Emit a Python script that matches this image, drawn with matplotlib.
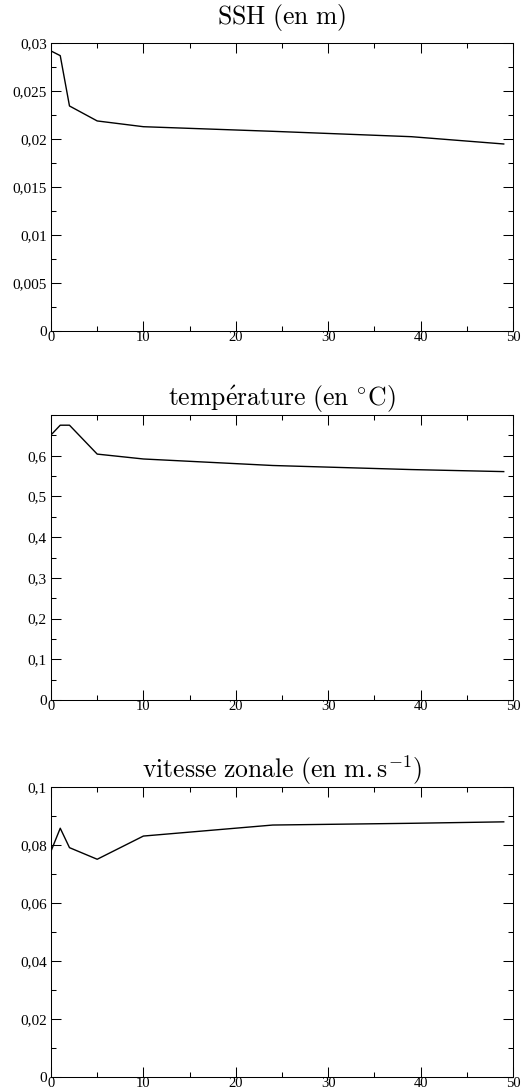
import matplotlib
matplotlib.use("Agg")
import matplotlib.pyplot as plt
from matplotlib.ticker import MultipleLocator, FuncFormatter

plt.rcParams["mathtext.fontset"] = "cm"
plt.rcParams["font.family"] = ["Liberation Serif", "DejaVu Serif"]

# time steps (x) shared by the three panels
x = [0, 1, 2, 5, 10, 24, 39, 49]

# SSH (m)
ssh = [0.02917, 0.02868, 0.02344, 0.02188, 0.02128, 0.0208, 0.02024, 0.01948]
# temperature (deg C)
temp = [0.651, 0.675, 0.675, 0.604, 0.592, 0.576, 0.566, 0.561]
# zonal velocity (m/s)
vit = [0.0779, 0.0858, 0.0791, 0.0751, 0.0831, 0.0869, 0.0875, 0.0880]

titles = [r"$\mathrm{SSH\ (en\ m)}$",
          r"$\mathrm{temp\acute{e}rature\ (en\ {}^{\circ}C)}$",
          r"$\mathrm{vitesse\ zonale\ (en\ m{.}s^{-1})}$"]
series = [ssh, temp, vit]
ylims = [0.03, 0.7, 0.1]
ymajor = [0.005, 0.1, 0.02]
yticks = [[i * 0.005 for i in range(7)],
          [i * 0.1 for i in range(7)],
          [i * 0.02 for i in range(6)]]
title_pads = [14, 4, 4]

# axes boxes in figure fractions [left, bottom, width, height]
boxes = [[0.0977, 0.6966, 0.885, 0.264],
         [0.0977, 0.3584, 0.885, 0.2612],
         [0.0977, 0.0128, 0.885, 0.2658]]

fig = plt.figure(figsize=(5.22, 10.91), dpi=100)


def comma(v, pos):
    s = f"{v:.6g}"
    if s in ("0", "-0"):
        return "0"
    return s.replace(".", ",")


for i in range(3):
    ax = fig.add_axes(boxes[i])
    ax.plot(x, series[i], color="black", lw=1.0)
    ax.set_xlim(0, 50)
    ax.set_ylim(0, ylims[i])
    ax.xaxis.set_major_locator(MultipleLocator(10))
    ax.xaxis.set_minor_locator(MultipleLocator(5))
    ax.set_yticks(yticks[i])
    ax.yaxis.set_minor_locator(MultipleLocator(ymajor[i] / 2))
    ax.yaxis.set_major_formatter(FuncFormatter(comma))
    ax.xaxis.set_major_formatter(FuncFormatter(comma))
    ax.tick_params(which="both", direction="in", top=True, right=True, width=0.75)
    ax.tick_params(which="major", length=7.2)
    ax.tick_params(which="minor", length=3.6)
    ax.tick_params(axis="y", labelsize=11, pad=3)
    ax.tick_params(axis="x", labelsize=10.5, pad=0)
    for sp in ax.spines.values():
        sp.set_linewidth(0.75)
    ax.set_title(titles[i], fontsize=18.5, pad=title_pads[i])

fig.savefig("out.png", dpi=100)
